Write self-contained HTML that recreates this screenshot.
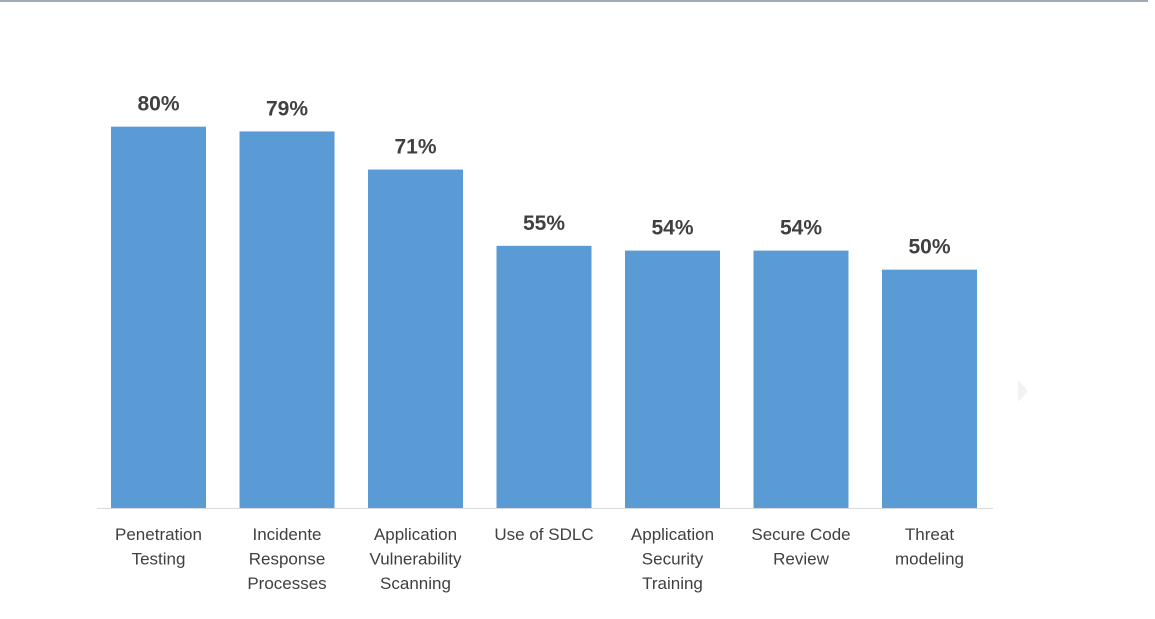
<!DOCTYPE html>
<html><head><meta charset="utf-8"><style>
html,body{margin:0;padding:0;background:#fff;width:1155px;height:619px;overflow:hidden}
svg{display:block;font-family:"Liberation Sans",Arial,sans-serif}
</style></head><body>
<svg id="chart" width="1155" height="619">
<rect x="0" y="0" width="1148" height="2" fill="#a2aab8"/>
<polygon points="1018,380 1028,391 1018,402" fill="#f2f2f2"/>
<line x1="97" y1="508.5" x2="993" y2="508.5" stroke="#d9d9d9" stroke-width="1"/>
<g id="bars"></g>
</svg>
<script>
const categories=[["Penetration","Testing"],["Incidente","Response","Processes"],["Application","Vulnerability","Scanning"],["Use of SDLC"],["Application","Security","Training"],["Secure Code","Review"],["Threat","modeling"]];
const values=[80,79,71,55,54,54,50];
const labels=["80%","79%","71%","55%","54%","54%","50%"];
const NS="http://www.w3.org/2000/svg";
const g=document.getElementById('bars');
const x0=111,step=128.5,bw=95,base=508,scale=4.767;
function xPos(i){return x0+i*step;}
function yPos(v){return base-v*scale;}
values.forEach((v,i)=>{
  const r=document.createElementNS(NS,'rect');
  r.setAttribute('x',xPos(i));r.setAttribute('y',yPos(v));
  r.setAttribute('width',bw);r.setAttribute('height',base-yPos(v));
  r.setAttribute('fill','#5b9bd5');
  
  
  g.appendChild(r);
  const t=document.createElementNS(NS,'text');
  t.setAttribute('x',xPos(i)+bw/2);t.setAttribute('y',yPos(v)-16);
  t.setAttribute('text-anchor','middle');t.setAttribute('font-size','21');
  t.setAttribute('font-weight','bold');t.setAttribute('fill','#404040');
  t.textContent=labels[i];
  
  
  g.appendChild(t);
  categories[i].forEach((line,j)=>{
    const c=document.createElementNS(NS,'text');
    c.setAttribute('x',xPos(i)+bw/2);c.setAttribute('y',540+j*24.5);
    c.setAttribute('text-anchor','middle');c.setAttribute('font-size','17');
    c.setAttribute('fill','#404040');
    c.textContent=line;
    
    
    g.appendChild(c);
  });
});
</script>
</body></html>
